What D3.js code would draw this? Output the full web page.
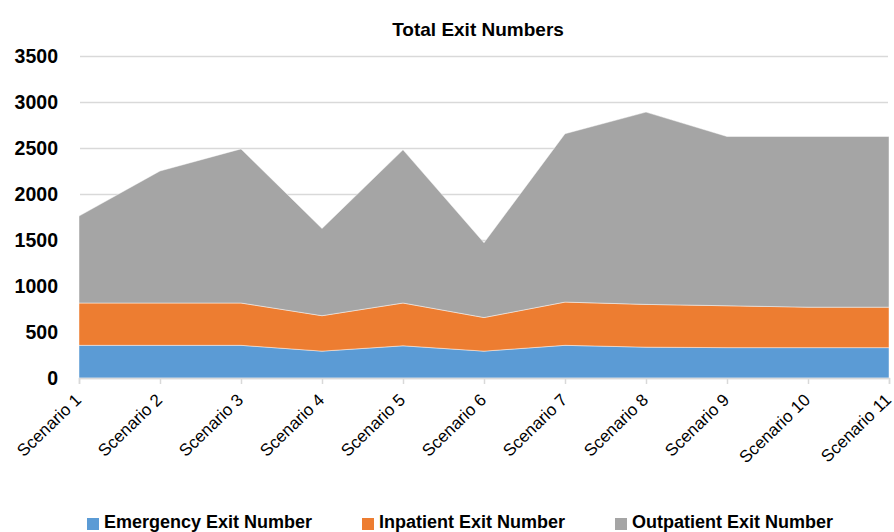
<!DOCTYPE html>
<html>
<head>
<meta charset="utf-8">
<script src="https://cdn.jsdelivr.net/npm/d3@7"></script>
<style>
  body { margin: 0; background: #fff; }
  svg { display: block; font-family: "Liberation Sans", Arial, sans-serif; }
</style>
</head>
<body>
<script>
// chart values
const scenarios = ['Scenario 1', 'Scenario 2', 'Scenario 3', 'Scenario 4', 'Scenario 5', 'Scenario 6',
  'Scenario 7', 'Scenario 8', 'Scenario 9', 'Scenario 10', 'Scenario 11']
const emergency = [355, 355, 355, 292, 350, 292, 355, 335, 330, 330, 330]
const inpatient = [460, 460, 460, 385, 465, 365, 470, 465, 455, 440, 440]
const outpatient = [945, 1435, 1675, 948, 1665, 813, 1830, 2090, 1840, 1855, 1855]
const seriesNames = ['Emergency Exit Number', 'Inpatient Exit Number', 'Outpatient Exit Number']
const yTicks = [0, 500, 1000, 1500, 2000, 2500, 3000, 3500]

const width = 894, height = 532
const colors = ['#5B9BD5', '#ED7D31', '#A5A5A5']
const keys = ['emergency', 'inpatient', 'outpatient']

const rows = scenarios.map((s, i) => ({
  scenario: s, emergency: emergency[i], inpatient: inpatient[i], outpatient: outpatient[i]
}))

const svg = d3.select('body').append('svg')
  .attr('width', width)
  .attr('height', height)

const x = d3.scalePoint()
  .domain(scenarios)
  .range([79, 889])

const y = d3.scaleLinear()
  .domain([0, 3500])
  .range([378, 56])

// title
svg.append('text')
  .attr('x', 478)
  .attr('y', 36)
  .attr('text-anchor', 'middle')
  .style('font-size', '19px')
  .style('font-weight', 'bold')
  .text('Total Exit Numbers')

// gridlines + y labels
const yAxis = svg.append('g')
  .attr('transform', 'translate(80,0)')
  .call(d3.axisLeft(y).tickValues(yTicks).tickFormat(d3.format('d')).tickSize(-808).tickPadding(22))
yAxis.select('.domain').remove()
yAxis.selectAll('.tick line')
  .attr('stroke', '#d9d9d9')
  .attr('stroke-width', 1.5)
yAxis.selectAll('.tick text')
  .attr('fill', '#000')
  .style('font-size', '19.5px')
  .style('font-weight', 'bold')
  .style('font-family', '"Liberation Sans", Arial, sans-serif')

// stacked areas
const stacked = d3.stack().keys(keys)(rows)
const area = d3.area()
  .x(d => x(d.data.scenario))
  .y0(d => y(d[0]))
  .y1(d => y(d[1]))

svg.append('g').selectAll('path')
  .data(stacked)
  .join('path')
  .attr('d', area)
  .attr('fill', (d, i) => colors[i])
  .attr('stroke', 'rgba(255,255,255,0.45)')
  .attr('stroke-width', 1)

// x axis
const xAxis = svg.append('g')
  .attr('transform', `translate(0,${y(0)})`)
  .call(d3.axisBottom(x).tickSize(6).tickPadding(8))
xAxis.select('.domain')
  .attr('stroke', '#d9d9d9')
  .attr('stroke-width', 1.5)
xAxis.selectAll('.tick line')
  .attr('stroke', '#d9d9d9')
  .attr('stroke-width', 1.5)
xAxis.selectAll('.tick text')
  .attr('fill', '#000')
  .attr('text-anchor', 'end')
  .attr('dy', null)
  .attr('transform', 'translate(-7,13) rotate(-44)')
  .style('font-size', '17px')
  .style('font-family', '"Liberation Sans", Arial, sans-serif')

// legend
const legendX = [87, 362, 615]
const legend = svg.append('g').selectAll('g')
  .data(seriesNames)
  .join('g')
  .attr('transform', (d, i) => `translate(${legendX[i]},515)`)
legend.append('rect')
  .attr('width', 12)
  .attr('height', 12)
  .attr('y', 3)
  .attr('fill', (d, i) => colors[i])
legend.append('text')
  .attr('x', 17)
  .attr('y', 13)
  .style('font-size', '18px')
  .style('font-weight', 'bold')
  .text(d => d)
</script>
</body>
</html>
